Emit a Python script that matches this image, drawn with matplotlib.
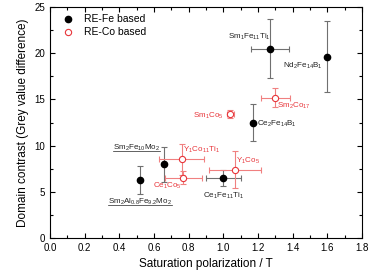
import matplotlib
matplotlib.use("Agg")
import matplotlib.pyplot as plt
from matplotlib.ticker import MultipleLocator
from matplotlib.lines import Line2D

plt.rcParams['font.family'] = ['Liberation Sans', 'DejaVu Sans']
plt.rcParams['mathtext.fontset'] = 'custom'
plt.rcParams['mathtext.rm'] = 'Liberation Sans'
plt.rcParams['mathtext.it'] = 'Liberation Sans'

# RE-Fe based
fe_names = [r'Sm$_2$Al$_{0.8}$Fe$_{9.2}$Mo$_2$', r'Sm$_2$Fe$_{10}$Mo$_2$', r'Ce$_1$Fe$_{11}$Ti$_1$',
            r'Ce$_2$Fe$_{14}$B$_1$', r'Sm$_1$Fe$_{11}$Ti$_1$', r'Nd$_2$Fe$_{14}$B$_1$']
fe_x = [0.52, 0.66, 1.00, 1.17, 1.27, 1.60]
fe_y = [6.3, 8.0, 6.5, 12.5, 20.5, 19.6]
fe_xerr = [0.0, 0.0, 0.10, 0.0, 0.11, 0.0]
fe_yerr = [1.5, 1.9, 0.9, 1.95, 3.2, 3.85]
fe_lx = [0.52, 0.50, 1.00, 1.31, 1.15, 1.46]
fe_ly = [3.9, 9.8, 4.6, 12.4, 21.8, 18.6]
fe_underline = [True, True, False, False, False, False]

# RE-Co based
co_names = [r'Y$_1$Co$_{11}$Ti$_1$', r'Ce$_1$Co$_5$', r'Y$_1$Co$_5$', r'Sm$_1$Co$_5$', r'Sm$_2$Co$_{17}$']
co_x = [0.76, 0.77, 1.07, 1.04, 1.30]
co_y = [8.5, 6.5, 7.4, 13.4, 15.2]
co_xerr = [0.13, 0.105, 0.15, 0.02, 0.085]
co_yerr = [1.7, 0.7, 2.0, 0.45, 1.0]
co_lx = [0.875, 0.675, 1.14, 0.915, 1.405]
co_ly = [9.5, 5.6, 8.3, 13.2, 14.3]

red = '#e8353a'
lightred = '#f08080'

fig = plt.figure(figsize=(3.71, 2.77), dpi=100)
ax = fig.add_axes([50/371, 1-238/277, 312/371, 231/277])

ax.errorbar(fe_x, fe_y, xerr=fe_xerr, yerr=fe_yerr, fmt='o', color='black', ms=4.5,
            ecolor='#707070', elinewidth=0.8, capsize=2, capthick=0.8, zorder=3)
ax.errorbar(co_x, co_y, xerr=co_xerr, yerr=co_yerr, fmt='o', mfc='white', mec=red, ms=4.5,
            mew=0.8, ecolor=lightred, elinewidth=0.8, capsize=2, capthick=0.8, zorder=3)

fe_texts = []
for n, lx, ly in zip(fe_names, fe_lx, fe_ly):
    fe_texts.append(ax.text(lx, ly, n, fontsize=5.8, color='#222222', ha='center', va='center'))
for n, lx, ly in zip(co_names, co_lx, co_ly):
    ax.text(lx, ly, n, fontsize=5.8, color=red, ha='center', va='center')

ax.set_xlim(0, 1.8)
ax.set_ylim(0, 25)
ax.xaxis.set_major_locator(MultipleLocator(0.2))
ax.xaxis.set_minor_locator(MultipleLocator(0.1))
ax.yaxis.set_major_locator(MultipleLocator(5))
ax.yaxis.set_minor_locator(MultipleLocator(2.5))
ax.tick_params(which='both', direction='in', top=True, right=True, labelsize=7, width=0.8)
ax.tick_params(which='major', length=3.5)
ax.tick_params(which='minor', length=2)
ax.set_xlabel('Saturation polarization / T', fontsize=8.5, labelpad=4)
ax.set_ylabel('Domain contrast (Grey value difference)', fontsize=8.5, labelpad=4)
for s in ax.spines.values():
    s.set_linewidth(0.8)

handles = [Line2D([], [], marker='o', ls='none', color='black', ms=4.5),
           Line2D([], [], marker='o', ls='none', mfc='white', mec=red, ms=4.5, mew=0.8)]
ax.legend(handles, ['RE-Fe based', 'RE-Co based'], loc='upper left', frameon=False,
          fontsize=7.5, handletextpad=0.6, borderaxespad=0.3, labelspacing=0.3)

fig.canvas.draw()
r = fig.canvas.get_renderer()
inv = ax.transData.inverted()
for t, u in zip(fe_texts, fe_underline):
    if u:
        bb = t.get_window_extent(r)
        (x0, y0) = inv.transform((bb.x0, bb.y0 + 2.0))
        (x1, _) = inv.transform((bb.x1, bb.y0 + 2.0))
        ax.plot([x0, x1], [y0, y0], color='#222222', lw=0.5)

fig.savefig('out.png', dpi=100)
